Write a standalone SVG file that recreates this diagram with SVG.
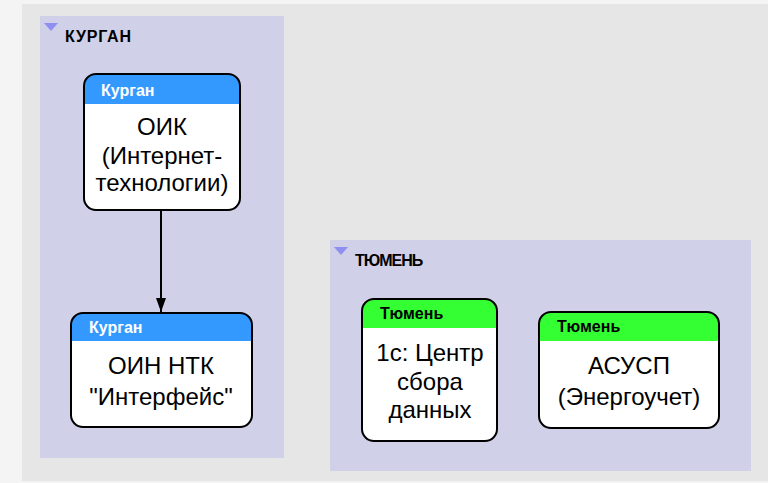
<svg xmlns="http://www.w3.org/2000/svg" width="768" height="483" viewBox="0 0 768 483">
<style>
.grp{fill:#d0d0e8}
.tri{fill:#8f8ff0}
.gt{font-family:"Liberation Sans",Arial,sans-serif;font-weight:bold;font-size:16px;fill:#000}
.box{fill:#fff;stroke:none}
.out{fill:none;stroke:#000;stroke-width:2}
.hb{fill:#3399ff}
.hg{fill:#33ff33}
.ht{font-family:"Liberation Sans",Arial,sans-serif;font-weight:bold;font-size:16px}
.bt{font-family:"Liberation Sans",Arial,sans-serif;font-size:24px;fill:#000;text-anchor:middle}
.edge{stroke:#000;stroke-width:2;fill:none}
</style>
<defs>
<marker id="arr" viewBox="0 0 14 10" refX="14" refY="5" markerWidth="14" markerHeight="10" markerUnits="userSpaceOnUse" orient="auto">
<path d="M0,0 L14,5 L0,10 z" fill="#000"/>
</marker>
</defs>
<rect x="0" y="0" width="768" height="483" fill="#f4f4f4"/>
<rect x="22" y="4" width="746" height="477" fill="#e6e6e6"/>
<g id="group-kurgan">
<rect class="grp" x="40" y="16" width="244" height="442"/>
<path class="tri" d="M44,23 L58,23 L51,31 z"/>
<text class="gt" x="65" y="42" letter-spacing="0.8">КУРГАН</text>
</g>
<g id="group-tyumen">
<rect class="grp" x="330" y="240" width="421" height="231"/>
<path class="tri" d="M334,247 L348,247 L341,255 z"/>
<text class="gt" x="355" y="266" letter-spacing="-1">ТЮМЕНЬ</text>
</g>
<g id="connectors">
<line class="edge" x1="161" y1="211" x2="161" y2="312" marker-end="url(#arr)"/>
</g>
<g id="node-oik">
<rect class="box" x="84" y="74" width="156" height="136" rx="12"/>
<path class="hb" d="M84,104 L84,86 Q84,74 96,74 L228,74 Q240,74 240,86 L240,104 z"/>
<rect class="out" x="84" y="74" width="156" height="136" rx="12"/>
<text class="ht" x="101" y="96" fill="#fff">Курган</text>
<text class="bt" x="162" y="135">ОИК</text>
<text class="bt" x="162" y="164">(Интернет-</text>
<text class="bt" x="162" y="191">технологии)</text>
</g>
<g id="node-oin">
<rect class="box" x="71" y="313" width="181" height="114" rx="12"/>
<path class="hb" d="M71,341 L71,325 Q71,313 83,313 L240,313 Q252,313 252,325 L252,341 z"/>
<rect class="out" x="71" y="313" width="181" height="114" rx="12"/>
<text class="ht" x="89" y="333" fill="#fff">Курган</text>
<text class="bt" x="161" y="374">ОИН НТК</text>
<text class="bt" x="161" y="405">"Интерфейс"</text>
</g>
<g id="node-1c">
<rect class="box" x="362" y="299" width="135" height="142" rx="12"/>
<path class="hg" d="M362,328 L362,311 Q362,299 374,299 L485,299 Q497,299 497,311 L497,328 z"/>
<rect class="out" x="362" y="299" width="135" height="142" rx="12"/>
<text class="ht" x="380" y="319" fill="#000">Тюмень</text>
<text class="bt" x="430" y="361">1с: Центр</text>
<text class="bt" x="430" y="390">сбора</text>
<text class="bt" x="430" y="418">данных</text>
</g>
<g id="node-asusp">
<rect class="box" x="539" y="312" width="180" height="116" rx="12"/>
<path class="hg" d="M539,341 L539,324 Q539,312 551,312 L707,312 Q719,312 719,324 L719,341 z"/>
<rect class="out" x="539" y="312" width="180" height="116" rx="12"/>
<text class="ht" x="557" y="332" fill="#000">Тюмень</text>
<text class="bt" x="629" y="374">АСУСП</text>
<text class="bt" x="629" y="405">(Энергоучет)</text>
</g>
</svg>
